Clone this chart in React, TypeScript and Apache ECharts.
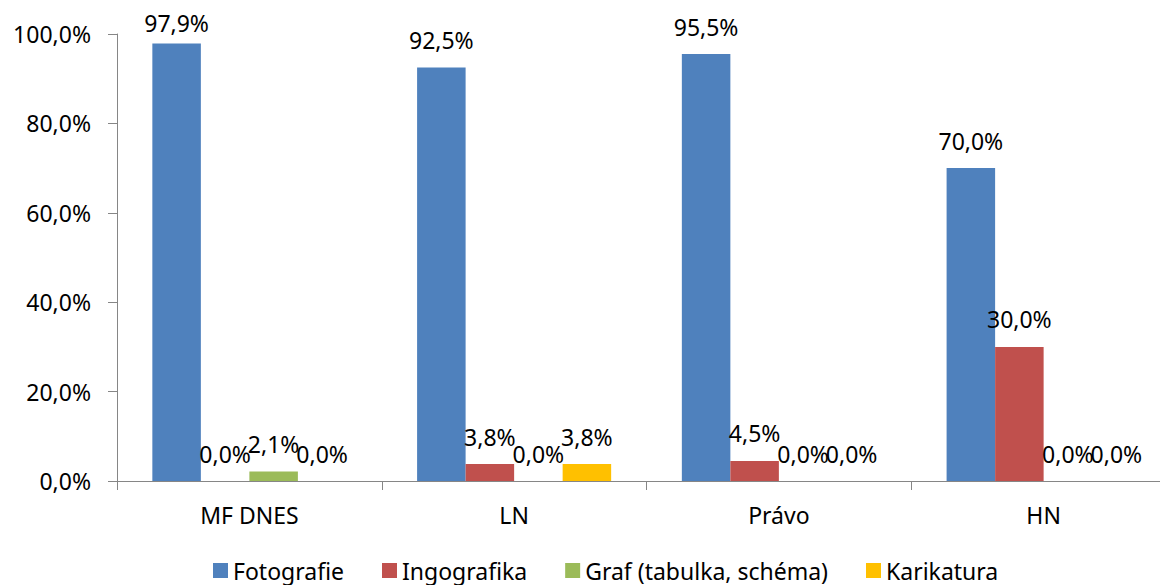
import React, { useEffect, useRef } from "react";
import * as echarts from "echarts";

const categories = ["MF DNES", "LN", "Právo", "HN"];
const seriesNames = ["Fotografie", "Ingografika", "Graf (tabulka, schéma)", "Karikatura"];
const fotografie = [97.9, 92.5, 95.5, 70.0];
const ingografika = [0.0, 3.8, 4.5, 30.0];
const graf = [2.1, 0.0, 0.0, 0.0];
const karikatura = [0.0, 3.8, 0.0, 0.0];
const colors = ["#4F81BD", "#C0504D", "#9BBB59", "#FFC000"];

const FONT = "'Noto Sans', sans-serif";
const fmt = (v: number) => v.toFixed(1).replace(".", ",") + "%";

const PLOT_TOP = 34;
const PLOT_H = 447;
// labels sit above their bar, but never above the top of the plot area
const labelDistance = (v: number) => Math.max(2, Math.min(16, ((100 - v) / 100) * PLOT_H));

export default function App() {
  const ref = useRef<HTMLDivElement>(null);
  useEffect(() => {
    if (!ref.current) return;
    const chart = echarts.init(ref.current, undefined, { renderer: "svg" });
    const values = [fotografie, ingografika, graf, karikatura];
    chart.setOption({
      animation: false,
      textStyle: { fontFamily: FONT },
      grid: {
        left: 117,
        top: PLOT_TOP,
        height: PLOT_H,
        width: 1059,
        containLabel: false,
        outerBoundsMode: "none",
      },
      legend: {
        data: seriesNames,
        left: 208,
        top: 554,
        itemWidth: 15,
        itemHeight: 15,
        itemGap: 38,
        icon: "rect",
        textStyle: { fontFamily: FONT, fontSize: 23, color: "#000", padding: [0, 0, 9, 0] },
      },
      xAxis: {
        type: "category",
        data: categories,
        axisLine: { lineStyle: { color: "#868686", width: 1 } },
        axisTick: { show: true, length: 9, inside: false, lineStyle: { color: "#868686" } },
        axisLabel: { fontFamily: FONT, fontSize: 23, color: "#000", margin: 22 },
      },
      yAxis: {
        type: "value",
        min: 0,
        max: 100,
        interval: 20,
        splitLine: { show: false },
        axisLine: { show: true, lineStyle: { color: "#868686", width: 1 } },
        axisTick: { show: true, length: 9, lineStyle: { color: "#868686" } },
        axisLabel: {
          fontFamily: FONT,
          fontSize: 23,
          color: "#000",
          margin: 26,
          formatter: (v: number) => fmt(v),
        },
      },
      series: seriesNames.map((name, i) => ({
        name,
        type: "bar",
        data: values[i].map((v) => ({ value: v, label: { distance: labelDistance(v) } })),
        barGap: "0%",
        barCategoryGap: "26.7%",
        itemStyle: { color: colors[i] },
        label: {
          show: true,
          position: "top",
          fontFamily: FONT,
          fontSize: 23,
          color: "#000",
          formatter: (p: any) => fmt(p.value),
        },
      })),
    });
    return () => chart.dispose();
  }, []);
  return (
    <div
      ref={ref}
      style={{ position: "fixed", left: 0, top: 0, width: 1160, height: 585, background: "#fff" }}
    />
  );
}
